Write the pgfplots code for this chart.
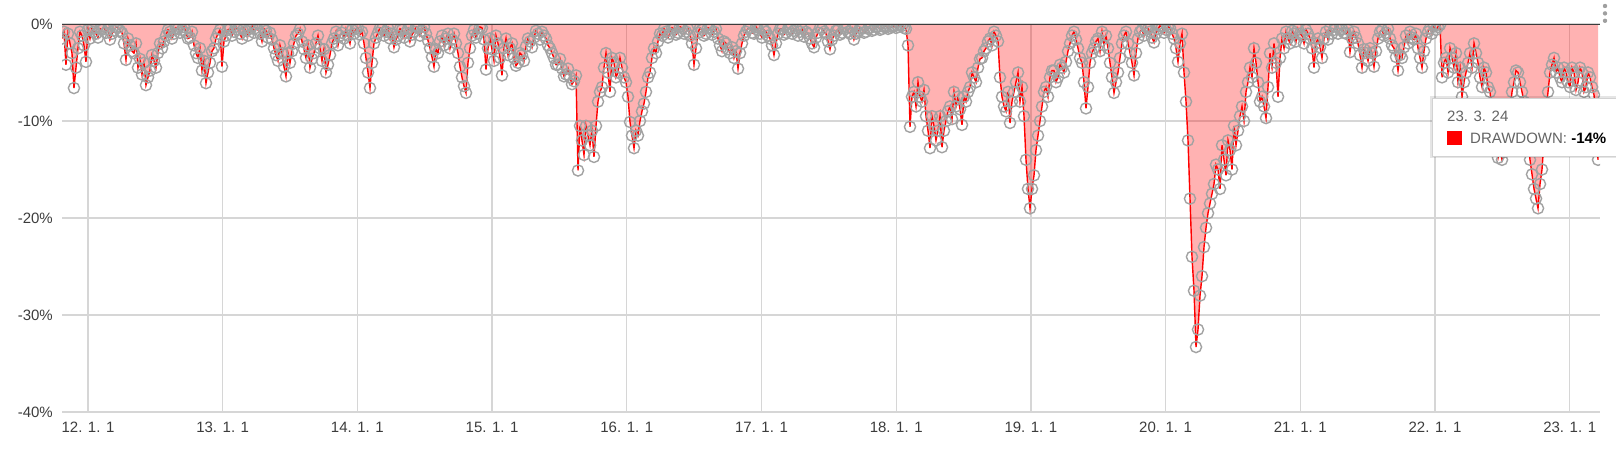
\documentclass[border=0pt]{standalone}
\usepackage{fontspec}
\setmainfont{Liberation Sans}
\usepackage{pgfplots}
\usepackage{pgfplotstable}
\pgfplotsset{compat=1.18}
\definecolor{gridc}{RGB}{214,214,214}
\definecolor{markc}{RGB}{162,162,162}
\definecolor{txt}{RGB}{60,60,60}
\definecolor{tipc}{RGB}{100,100,100}
\definecolor{zeroc}{RGB}{60,60,60}

% drawdown (%) sampled every ~5.4 days from 2011-10-22 to 2023-03-24
\pgfplotstableread[row sep=\\, header=false]{
-1.5\\ -0.8\\ -4.2\\ -1.0\\ -2.0\\ -3.0\\ -6.6\\ -4.5\\ -2.5\\ -0.8\\ -1.2\\ -2.2\\ -3.9\\ -0.6\\ -1.5\\ -0.4\\ -0.8\\ -1.0\\ -1.4\\ -0.5\\
-0.6\\ -0.3\\ -0.9\\ -0.5\\ -1.6\\ -1.0\\ -0.7\\ -0.3\\ -0.4\\ -0.7\\ -0.9\\ -2.0\\ -3.7\\ -1.5\\ -2.2\\ -2.8\\ -3.0\\ -2.0\\ -4.5\\ -3.6\\
-5.2\\ -4.0\\ -6.3\\ -5.5\\ -4.8\\ -3.2\\ -3.8\\ -4.5\\ -3.0\\ -2.0\\ -2.5\\ -1.8\\ -1.2\\ -0.6\\ -0.8\\ -1.5\\ -1.0\\ -0.4\\ -0.5\\ -0.9\\
-0.6\\ -0.3\\ -0.9\\ -1.5\\ -1.4\\ -0.8\\ -2.2\\ -3.0\\ -3.5\\ -2.5\\ -4.8\\ -3.8\\ -6.1\\ -5.0\\ -4.0\\ -2.8\\ -2.5\\ -1.5\\ -1.0\\ -0.6\\
-4.4\\ -1.8\\ -1.2\\ -0.6\\ -0.5\\ -1.2\\ -0.8\\ -0.3\\ -0.6\\ -1.0\\ -1.5\\ -0.4\\ -0.7\\ -1.2\\ -0.5\\ -0.2\\ -0.9\\ -0.4\\ -0.6\\ -1.0\\
-1.8\\ -0.5\\ -0.7\\ -1.4\\ -0.9\\ -1.6\\ -2.5\\ -3.2\\ -3.8\\ -2.2\\ -3.0\\ -4.4\\ -5.4\\ -3.0\\ -4.0\\ -2.8\\ -2.0\\ -1.2\\ -1.0\\ -0.5\\
-1.8\\ -2.6\\ -3.5\\ -2.2\\ -4.5\\ -3.6\\ -3.0\\ -2.0\\ -1.2\\ -2.5\\ -3.8\\ -2.6\\ -5.0\\ -4.2\\ -3.2\\ -2.0\\ -1.5\\ -0.8\\ -2.2\\ -1.2\\
-0.9\\ -1.5\\ -0.5\\ -1.2\\ -2.0\\ -0.6\\ -1.0\\ -0.5\\ -0.4\\ -1.1\\ -0.8\\ -2.0\\ -3.5\\ -5.0\\ -6.6\\ -4.0\\ -2.0\\ -1.4\\ -0.9\\ -0.4\\
-0.5\\ -1.2\\ -0.8\\ -0.4\\ -1.5\\ -1.0\\ -2.4\\ -1.6\\ -1.2\\ -0.5\\ -0.6\\ -1.4\\ -0.9\\ -0.5\\ -1.8\\ -1.1\\ -0.8\\ -0.3\\ -0.4\\ -1.2\\
-0.7\\ -0.3\\ -1.0\\ -1.7\\ -2.5\\ -3.4\\ -4.4\\ -2.6\\ -3.0\\ -1.8\\ -1.2\\ -2.2\\ -1.5\\ -1.0\\ -2.5\\ -1.6\\ -1.0\\ -2.0\\ -3.0\\ -4.4\\
-5.5\\ -6.4\\ -7.1\\ -4.0\\ -2.5\\ -1.2\\ -0.6\\ -1.4\\ -1.0\\ -0.3\\ -0.4\\ -1.6\\ -4.7\\ -2.5\\ -1.5\\ -2.6\\ -3.8\\ -1.2\\ -2.0\\ -3.5\\
-5.3\\ -2.5\\ -1.5\\ -3.2\\ -2.5\\ -2.0\\ -3.5\\ -4.3\\ -4.0\\ -3.0\\ -3.2\\ -3.8\\ -2.3\\ -1.5\\ -1.8\\ -2.4\\ -1.4\\ -0.7\\ -1.0\\ -1.6\\
-0.8\\ -1.2\\ -1.5\\ -2.2\\ -2.5\\ -3.0\\ -3.5\\ -4.2\\ -4.2\\ -3.6\\ -4.6\\ -5.4\\ -5.2\\ -4.6\\ -5.5\\ -6.2\\ -5.9\\ -5.3\\ -15.1\\ -10.5\\
-12.0\\ -13.5\\ -10.5\\ -11.5\\ -12.5\\ -11.0\\ -13.7\\ -10.5\\ -8.0\\ -7.0\\ -6.5\\ -4.5\\ -3.0\\ -5.0\\ -7.0\\ -3.5\\ -4.0\\ -5.5\\ -5.0\\ -3.5\\
-4.5\\ -5.5\\ -6.0\\ -7.5\\ -10.1\\ -11.5\\ -12.8\\ -11.0\\ -11.5\\ -10.0\\ -9.0\\ -8.2\\ -7.0\\ -5.5\\ -5.0\\ -3.5\\ -2.5\\ -3.0\\ -1.8\\ -1.0\\
-1.2\\ -0.5\\ -0.8\\ -1.4\\ -1.0\\ -0.4\\ -0.5\\ -1.1\\ -0.9\\ -0.3\\ -0.4\\ -1.0\\ -0.8\\ -0.5\\ -1.2\\ -2.0\\ -4.2\\ -2.5\\ -0.9\\ -0.4\\
-0.6\\ -1.2\\ -1.0\\ -0.4\\ -0.5\\ -1.1\\ -0.8\\ -0.5\\ -1.5\\ -2.2\\ -2.8\\ -1.8\\ -2.0\\ -2.6\\ -3.0\\ -2.4\\ -3.5\\ -2.8\\ -4.6\\ -3.0\\
-2.0\\ -1.2\\ -0.8\\ -0.5\\ -0.4\\ -0.9\\ -1.0\\ -0.3\\ -0.6\\ -1.0\\ -1.4\\ -0.6\\ -0.8\\ -1.2\\ -1.5\\ -2.2\\ -3.2\\ -2.0\\ -1.0\\ -0.5\\
-0.5\\ -1.1\\ -0.9\\ -0.5\\ -0.4\\ -1.0\\ -0.7\\ -0.4\\ -1.2\\ -0.8\\ -0.5\\ -1.3\\ -0.8\\ -1.0\\ -1.5\\ -2.0\\ -2.4\\ -1.4\\ -0.9\\ -0.4\\
-0.5\\ -0.8\\ -1.0\\ -1.8\\ -2.6\\ -1.6\\ -1.2\\ -0.7\\ -0.6\\ -1.1\\ -0.9\\ -0.4\\ -0.5\\ -0.8\\ -1.0\\ -0.5\\ -1.6\\ -1.0\\ -0.8\\ -0.4\\
-0.5\\ -0.9\\ -0.8\\ -0.5\\ -0.4\\ -0.7\\ -0.6\\ -0.3\\ -0.3\\ -0.6\\ -0.5\\ -0.3\\ -0.2\\ -0.5\\ -0.4\\ -0.3\\ -0.2\\ -0.4\\ -0.3\\ -0.1\\
-0.2\\ -0.4\\ -0.5\\ -2.2\\ -10.6\\ -7.5\\ -7.0\\ -8.5\\ -6.0\\ -7.5\\ -8.0\\ -6.8\\ -9.5\\ -11.0\\ -12.8\\ -9.5\\ -10.5\\ -12.0\\ -11.0\\ -9.5\\
-12.7\\ -11.0\\ -10.0\\ -9.0\\ -8.5\\ -9.8\\ -7.0\\ -8.5\\ -7.5\\ -8.8\\ -10.4\\ -7.5\\ -8.0\\ -7.0\\ -6.5\\ -5.0\\ -5.5\\ -6.0\\ -4.5\\ -3.6\\
-3.5\\ -2.8\\ -2.5\\ -1.8\\ -1.5\\ -2.2\\ -0.8\\ -1.2\\ -1.8\\ -5.5\\ -7.5\\ -8.5\\ -9.0\\ -7.0\\ -10.2\\ -8.0\\ -7.0\\ -6.0\\ -5.0\\ -8.0\\
-6.5\\ -9.5\\ -14.0\\ -17.0\\ -19.0\\ -17.0\\ -15.6\\ -13.0\\ -11.5\\ -10.0\\ -8.5\\ -7.0\\ -6.5\\ -7.5\\ -5.5\\ -4.8\\ -4.8\\ -6.0\\ -5.5\\ -4.2\\
-4.5\\ -5.0\\ -3.9\\ -2.8\\ -2.0\\ -1.2\\ -0.8\\ -1.6\\ -2.5\\ -3.5\\ -4.0\\ -6.0\\ -8.7\\ -6.5\\ -4.0\\ -3.0\\ -2.5\\ -1.8\\ -1.5\\ -2.8\\
-0.8\\ -2.2\\ -1.2\\ -2.5\\ -4.0\\ -5.5\\ -7.1\\ -6.0\\ -5.0\\ -3.5\\ -2.0\\ -1.2\\ -0.8\\ -2.0\\ -3.0\\ -4.0\\ -5.3\\ -3.0\\ -1.5\\ -0.8\\
-0.6\\ -1.2\\ -0.3\\ -0.5\\ -0.8\\ -1.4\\ -1.9\\ -1.0\\ -0.5\\ -0.2\\ -0.3\\ -0.9\\ -0.6\\ -0.3\\ -0.4\\ -1.0\\ -1.5\\ -2.5\\ -3.9\\ -2.0\\
-1.0\\ -5.0\\ -8.0\\ -12.0\\ -18.0\\ -24.0\\ -27.5\\ -33.3\\ -31.5\\ -28.0\\ -26.0\\ -23.0\\ -21.0\\ -19.5\\ -18.5\\ -17.5\\ -16.5\\ -14.5\\ -15.0\\ -17.0\\
-12.5\\ -14.0\\ -15.6\\ -12.0\\ -13.0\\ -15.0\\ -10.5\\ -12.5\\ -11.0\\ -9.5\\ -8.5\\ -10.0\\ -7.0\\ -6.0\\ -4.5\\ -5.5\\ -2.5\\ -4.0\\ -6.0\\ -8.0\\
-7.5\\ -8.5\\ -9.7\\ -6.5\\ -3.0\\ -4.5\\ -2.0\\ -4.0\\ -7.5\\ -3.5\\ -1.5\\ -2.5\\ -0.8\\ -1.5\\ -2.0\\ -0.7\\ -1.0\\ -1.8\\ -0.5\\ -1.0\\
-1.2\\ -2.0\\ -0.6\\ -1.0\\ -1.5\\ -2.5\\ -4.5\\ -2.0\\ -1.5\\ -2.4\\ -3.5\\ -1.5\\ -0.8\\ -1.6\\ -0.4\\ -1.0\\ -0.6\\ -0.3\\ -1.0\\ -0.6\\
-0.5\\ -0.9\\ -1.0\\ -0.6\\ -2.9\\ -1.5\\ -0.8\\ -1.4\\ -2.0\\ -3.2\\ -4.5\\ -2.6\\ -3.0\\ -3.8\\ -2.5\\ -3.0\\ -4.4\\ -2.8\\ -1.5\\ -0.8\\
-0.6\\ -1.2\\ -0.9\\ -0.5\\ -1.5\\ -2.2\\ -2.5\\ -3.4\\ -4.8\\ -3.2\\ -3.5\\ -2.4\\ -1.2\\ -2.0\\ -0.8\\ -1.4\\ -1.6\\ -1.0\\ -2.5\\ -3.5\\
-4.5\\ -2.8\\ -1.5\\ -0.8\\ -0.4\\ -1.0\\ -0.2\\ -0.6\\ -0.3\\ -0.1\\ -5.5\\ -4.0\\ -3.5\\ -5.0\\ -2.5\\ -3.5\\ -4.5\\ -3.0\\ -6.0\\ -4.5\\
-7.5\\ -6.0\\ -5.0\\ -4.0\\ -3.0\\ -4.5\\ -2.0\\ -3.0\\ -4.0\\ -5.5\\ -6.5\\ -4.5\\ -5.0\\ -6.5\\ -7.0\\ -9.0\\ -12.0\\ -13.0\\ -13.8\\ -12.8\\
-14.0\\ -13.2\\ -12.5\\ -11.0\\ -9.0\\ -7.0\\ -6.0\\ -4.8\\ -5.0\\ -6.0\\ -7.0\\ -8.0\\ -9.0\\ -12.0\\ -14.0\\ -15.5\\ -17.0\\ -18.0\\ -19.0\\ -16.5\\
-15.0\\ -12.0\\ -9.0\\ -7.0\\ -5.0\\ -4.2\\ -3.5\\ -5.0\\ -4.5\\ -5.5\\ -6.0\\ -4.5\\ -5.0\\ -6.0\\ -6.5\\ -4.5\\ -5.0\\ -6.8\\ -6.0\\ -4.5\\
-5.0\\ -7.0\\ -6.5\\ -5.0\\ -5.5\\ -6.5\\ -7.3\\ -10.0\\ -14.0\\
}\dd

\begin{document}
\begin{tikzpicture}[x=1pt,y=1pt]
\useasboundingbox (0,0) rectangle (1616,453);
\begin{axis}[
  at={(62pt,41pt)}, anchor=south west,
  scale only axis, width=1538pt, height=388pt,
  xmin=2011.807, xmax=2023.225, ymin=-40, ymax=0,
  xtick={2012,2013,2014,2015,2016,2017,2018,2019,2020,2021,2022,2023},
  xticklabels={12. 1. 1,13. 1. 1,14. 1. 1,15. 1. 1,16. 1. 1,17. 1. 1,18. 1. 1,19. 1. 1,20. 1. 1,21. 1. 1,22. 1. 1,23. 1. 1},
  ytick={-40,-30,-20,-10,0},
  yticklabels={-40\%,-30\%,-20\%,-10\%,0\%},
  grid=major, major grid style={gridc, line width=1.3pt},
  axis line style={draw=none}, major tick length=0pt,
  tick label style={font=\fontsize{15}{18}\selectfont, text=txt},
  yticklabel style={anchor=east, inner sep=0pt, xshift=-9pt},
  xticklabel style={anchor=north, inner sep=0pt, yshift=-10pt},
  clip marker paths=true,
]
\addplot [draw=none, fill=red, fill opacity=0.3]
  table [x expr=2011.807+\coordindex*0.014848, y index=0] {\dd} \closedcycle;
\addplot [red, line width=1.4pt, no marks]
  table [x expr=2011.807+\coordindex*0.014848, y index=0] {\dd};
\addplot [only marks, mark=o, mark size=5.6pt, mark options={draw=markc, line width=1.4pt}]
  table [x expr=2011.807+\coordindex*0.014848, y index=0] {\dd};
\draw [zeroc, line width=1.3pt] (rel axis cs:0,1) -- (rel axis cs:1,1);
\end{axis}
% tooltip
\fill [black, opacity=0.10] (1430,295) rectangle (1625,357);
\draw [fill=white, draw=gray!35, line width=0.8pt] (1432,297) rectangle (1625,355);
\node [anchor=base west, inner sep=0pt, text=tipc] at (1447,331) {\fontsize{15}{18}\selectfont 23. 3. 24};
\fill [red] (1447,308) rectangle (1462,322);
\node [anchor=base west, inner sep=0pt, text=tipc] at (1470,309) {\fontsize{15}{18}\selectfont DRAWDOWN: \textcolor{black}{\textbf{-14\%}}};
% menu dots
\fill [gray!75] (1605,447) circle (2.2) (1605,439.6) circle (2.2) (1605,432.2) circle (2.2);
\end{tikzpicture}
\end{document}
